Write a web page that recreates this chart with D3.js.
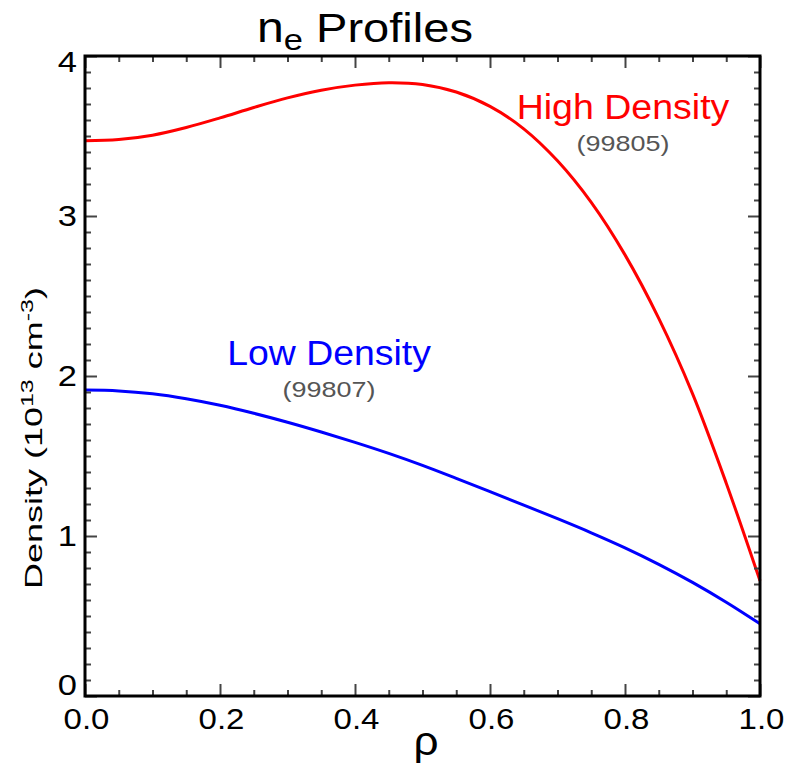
<!DOCTYPE html>
<html><head><meta charset="utf-8">
<script src="https://cdn.jsdelivr.net/npm/d3@7"></script>
<style>body{margin:0;background:#fff}svg{display:block;font-family:"Liberation Sans",Arial,sans-serif}</style>
</head><body><svg id="c" width="788" height="767"></svg>
<script>
// ---- data ----
const rho = [0.00,0.05,0.10,0.15,0.20,0.25,0.30,0.35,0.40,0.45,0.50,0.55,0.60,0.65,0.70,0.75,0.80,0.85,0.90,0.95,1.00];
const highDensity = [3.47,3.478,3.505,3.553,3.613,3.678,3.738,3.786,3.818,3.833,3.822,3.775,3.685,3.545,3.345,3.085,2.757,2.36,1.89,1.33,0.72];
const lowDensity  = [1.912,1.907,1.889,1.858,1.817,1.767,1.711,1.650,1.585,1.516,1.441,1.360,1.277,1.193,1.108,1.020,0.926,0.823,0.710,0.586,0.451];
const xMajorTicks = [0,0.2,0.4,0.6,0.8,1.0];
const xTickLabels = ["0.0","0.2","0.4","0.6","0.8","1.0"];
const yMajorTicks = [0,1,2,3,4];
const yTickLabels = ["0","1","2","3","4"];
const seriesNames = ["High Density","Low Density"];
const shotNumbers = ["(99805)","(99807)"];

// ---- layout ----
const L=85,R=760,T=56,B=696;
const svg=d3.select("#c");
const x=d3.scaleLinear().domain([0,1]).range([L,R]);
const y=d3.scaleLinear().domain([0,4]).range([B,T]);

// horizontal stretch of text in its own frame; w = target width (px) or sx factor
function fit(sel, opt){
  sel.each(function(){
    const s=d3.select(this);
    let sx=opt.sx;
    if(opt.w){ sx=opt.w/this.getBBox().width; }
    s.attr("transform",(s.attr("data-t")||"")+` scale(${sx},1)`);
  });
}

// curves
const line=d3.line().x(d=>x(d[0])).y(d=>y(d[1])).curve(d3.curveCatmullRom.alpha(0.5));
svg.append("path").attr("d",line(rho.map((r,i)=>[r,highDensity[i]]))).attr("fill","none").attr("stroke","#ff0000").attr("stroke-width",3);
svg.append("path").attr("d",line(rho.map((r,i)=>[r,lowDensity[i]]))).attr("fill","none").attr("stroke","#0000ff").attr("stroke-width",3);

// ticks via d3 axes (inward)
const xMinor=d3.range(0,1.0001,0.05).filter(v=>xMajorTicks.every(m=>Math.abs(m-v)>1e-6));
const yMinor=d3.range(0,4.0001,0.1).filter(v=>yMajorTicks.every(m=>Math.abs(m-v)>1e-6));
function ax(gen, tr, vals, size){
  const g=svg.append("g").attr("transform",tr).call(gen.tickValues(vals).tickSize(size).tickFormat(""));
  g.select(".domain").remove();
  g.selectAll(".tick line").attr("stroke","#444").attr("stroke-width",2);
  g.selectAll("text").remove();
}
ax(d3.axisBottom(x),`translate(0,${B})`,xMajorTicks,-12);
ax(d3.axisBottom(x),`translate(0,${B})`,xMinor,-6);
ax(d3.axisTop(x),`translate(0,${T})`,xMajorTicks,-12);
ax(d3.axisTop(x),`translate(0,${T})`,xMinor,-6);
ax(d3.axisLeft(y),`translate(${L},0)`,yMajorTicks,-12);
ax(d3.axisLeft(y),`translate(${L},0)`,yMinor,-6);
ax(d3.axisRight(y),`translate(${R},0)`,yMajorTicks,-12);
ax(d3.axisRight(y),`translate(${R},0)`,yMinor,-6);

// frame
svg.append("rect").attr("x",L).attr("y",T).attr("width",R-L).attr("height",B-T).attr("fill","none").attr("stroke","#000").attr("stroke-width",3);

// x tick labels
svg.append("g").selectAll("text").data(xMajorTicks).join("text")
  .attr("data-t",(d)=>`translate(${x(d)+1.5},729)`)
  .attr("text-anchor","middle").attr("font-size",30).attr("fill","#000")
  .text((d,i)=>xTickLabels[i]).call(fit,{sx:1.1});
// y tick labels
svg.append("g").selectAll("text").data(yMajorTicks).join("text")
  .attr("data-t",(d)=>`translate(77,${Math.min(Math.max(y(d),62),685)})`)
  .attr("text-anchor","end").attr("dominant-baseline","central").attr("font-size",30).attr("fill","#000")
  .text((d,i)=>yTickLabels[i]).call(fit,{sx:1.15});

// axis titles
svg.append("text").attr("data-t","translate(426,755)").attr("text-anchor","middle").attr("font-size",40).text("ρ").call(fit,{sx:1.1});
const yl=svg.append("text").attr("data-t","translate(42,438) rotate(-90)").attr("text-anchor","middle").attr("font-size",23);
yl.append("tspan").text("Density (10");
yl.append("tspan").attr("dy",-9).attr("font-size",16).text("13");
yl.append("tspan").attr("dy",9).text(" cm");
yl.append("tspan").attr("dy",-9).attr("font-size",16).text("-3");
yl.append("tspan").attr("dy",9).text(")");
yl.call(fit,{w:302});

// title
const tt=svg.append("text").attr("data-t","translate(257,42)").attr("font-size",41);
tt.append("tspan").attr("font-size",42).text("n");
tt.append("tspan").attr("dy",8).attr("font-size",30).text("e");
tt.append("tspan").attr("dy",-8).text(" Profiles");
tt.call(fit,{w:216});

// annotations
const ann=[{cx:623,by:119,c:"#ff0000",w:213},{cx:329,by:365,c:"#0000ff",w:204}];
ann.forEach((a,i)=>{
  svg.append("text").attr("data-t",`translate(${a.cx},${a.by})`).attr("text-anchor","middle").attr("font-size",35.5).attr("fill",a.c).text(seriesNames[i]).call(fit,{w:a.w});
  svg.append("text").attr("data-t",`translate(${a.cx},${a.by+32})`).attr("text-anchor","middle").attr("font-size",23).attr("fill","#555").text(shotNumbers[i]).call(fit,{w:93});
});
</script></body></html>
